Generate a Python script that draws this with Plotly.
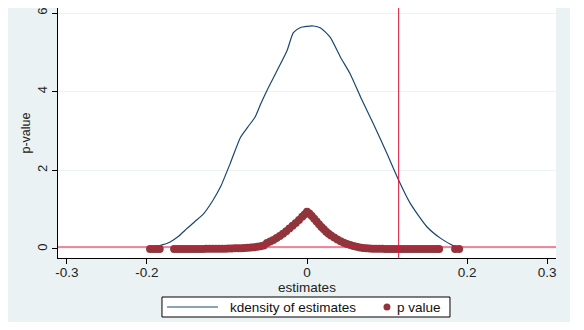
import plotly.graph_objects as go

# kernel density of the permutation estimates
kd_x = [-0.200, -0.190, -0.180, -0.171, -0.160, -0.150, -0.140, -0.129, -0.118, -0.108,
        -0.096, -0.083, -0.074, -0.065, -0.058, -0.050, -0.0375, -0.025, -0.017, -0.008,
        0.000, 0.008, 0.017, 0.029, 0.042, 0.054, 0.067, 0.083, 0.100, 0.1145,
        0.129, 0.150, 0.167, 0.183, 0.192]
kd_y = [0.00, 0.05, 0.11, 0.18, 0.33, 0.52, 0.70, 0.90, 1.22, 1.58,
        2.17, 2.84, 3.10, 3.35, 3.68, 4.03, 4.53, 5.04, 5.50, 5.63,
        5.66, 5.67, 5.62, 5.38, 4.87, 4.45, 3.86, 3.18, 2.42, 1.75,
        1.16, 0.56, 0.27, 0.08, 0.00]

# p value of each estimate
est = [-0.196, -0.192, -0.188, -0.184,
       -0.166, -0.162, -0.158, -0.154, -0.150, -0.146, -0.142, -0.138, -0.134, -0.130,
       -0.126, -0.122, -0.118, -0.114, -0.110, -0.106, -0.102, -0.098, -0.094, -0.090,
       -0.086, -0.082, -0.078, -0.074, -0.070, -0.066, -0.062, -0.058, -0.054, -0.050,
       -0.046, -0.042, -0.038, -0.034, -0.030, -0.026, -0.022, -0.018, -0.014, -0.010,
       -0.006, -0.003, 0.000, 0.003, 0.006, 0.009, 0.012, 0.015, 0.018, 0.021,
       0.024, 0.027, 0.030, 0.034, 0.038, 0.042, 0.046, 0.050, 0.054, 0.058,
       0.062, 0.066, 0.070, 0.074, 0.078, 0.082, 0.086, 0.090, 0.094, 0.098,
       0.102, 0.106, 0.110, 0.114, 0.118, 0.122, 0.126, 0.130, 0.134, 0.138,
       0.142, 0.146, 0.150, 0.154, 0.158, 0.162, 0.165,
       0.185, 0.190]
pval = [0.0, 0.0, 0.0, 0.0,
        0.0, 0.0, 0.0, 0.0, 0.0, 0.001, 0.001, 0.001, 0.002, 0.002,
        0.003, 0.003, 0.004, 0.005, 0.006, 0.007, 0.009, 0.011, 0.013, 0.016,
        0.019, 0.022, 0.026, 0.031, 0.037, 0.045, 0.056, 0.070, 0.090, 0.150,
        0.19, 0.23, 0.28, 0.33, 0.39, 0.45, 0.52, 0.59, 0.66, 0.74,
        0.82, 0.88, 0.95, 0.90, 0.84, 0.77, 0.70, 0.63, 0.56, 0.50,
        0.44, 0.39, 0.34, 0.29, 0.24, 0.20, 0.16, 0.13, 0.10, 0.075,
        0.055, 0.040, 0.028, 0.019, 0.013, 0.009, 0.006, 0.004, 0.003, 0.002,
        0.001, 0.0, 0.0, 0.0, 0.0, 0.0, 0.0, 0.0, 0.0, 0.0,
        0.0, 0.0, 0.0, 0.0, 0.0, 0.0, 0.0,
        0.0, 0.0]

x_ticks = [-0.3, -0.2, 0, 0.2, 0.3]
x_labels = ['-0.3', '-0.2', '0', '0.2', '0.3']
y_ticks = [0, 2, 4, 6]

kd_name = 'kdensity of estimates'
p_name = 'p value'

true_est = 0.1145
sig_level = 0.05

bg = '#EAF2F3'
navy = '#1A476F'
maroon = '#90353B'
fnt = 'Liberation Sans, Arial, sans-serif'

fig = go.Figure()

fig.add_trace(go.Scatter(
    x=kd_x, y=kd_y,
    mode='lines',
    name=kd_name,
    line=dict(color=navy, width=1.2, shape='spline', smoothing=0.6)
))

fig.add_trace(go.Scatter(
    x=est, y=pval,
    mode='markers',
    name=p_name,
    marker=dict(color=maroon, size=8, line=dict(width=0))
))

fig.add_vline(x=true_est, line=dict(color='#DC143C', width=1))
fig.add_hline(y=sig_level, line=dict(color='#DC143C', width=1))

# Stata style legend box under the axis title (plotly's own legend is too tall)
ly = -0.196
fig.add_shape(type='rect', xref='paper', yref='paper',
              x0=0.2088, x1=0.7871, y0=-0.236, y1=-0.156,
              fillcolor='white', line=dict(color='black', width=1))
fig.add_shape(type='line', xref='paper', yref='paper',
              x0=0.2189, x1=0.3213, y0=ly, y1=ly,
              line=dict(color=navy, width=1.2))
fig.add_shape(type='circle', xref='paper', yref='paper',
              x0=0.6536, x1=0.6676, y0=ly - 0.014, y1=ly + 0.014,
              fillcolor=maroon, line=dict(width=0))
fig.add_annotation(xref='paper', yref='paper', x=0.3414, y=ly,
                   text=kd_name, showarrow=False,
                   xanchor='left', yanchor='middle',
                   font=dict(family=fnt, size=13.5, color='#111'))
fig.add_annotation(xref='paper', yref='paper', x=0.6767, y=ly,
                   text=p_name, showarrow=False,
                   xanchor='left', yanchor='middle',
                   font=dict(family=fnt, size=13.5, color='#111'))

# page body keeps its default 8px margin, so the figure is sized to the
# Stata-style grey box and the white page shows round it
fig.update_layout(
    width=562, height=314,
    margin=dict(l=50, r=14, t=0, b=64, autoexpand=False),
    paper_bgcolor=bg,
    plot_bgcolor='white',
    font=dict(family=fnt, size=13.5, color='#222'),
    showlegend=False,
    xaxis=dict(
        range=[-0.311, 0.311],
        tickvals=x_ticks, ticktext=x_labels,
        showgrid=False, zeroline=False,
        showline=True, linecolor='black', linewidth=1,
        ticks='outside', ticklen=5, tickcolor='black',
        tickfont=dict(size=13.5),
        ticklabelstandoff=-3,
        title=dict(text='estimates', standoff=0, font=dict(size=13.5)),
    ),
    yaxis=dict(
        range=[-0.229, 6.127],
        tickvals=y_ticks,
        tickangle=-90,
        tickfont=dict(size=13),
        ticklabeloverflow='allow',
        showgrid=True, gridcolor=bg, gridwidth=1,
        zeroline=False,
        showline=True, linecolor='black', linewidth=1,
        ticks='outside', ticklen=5, tickcolor='black',
        title=dict(text='p-value', standoff=1, font=dict(size=12.5)),
    ),
)

fig.write_html("out.html")
